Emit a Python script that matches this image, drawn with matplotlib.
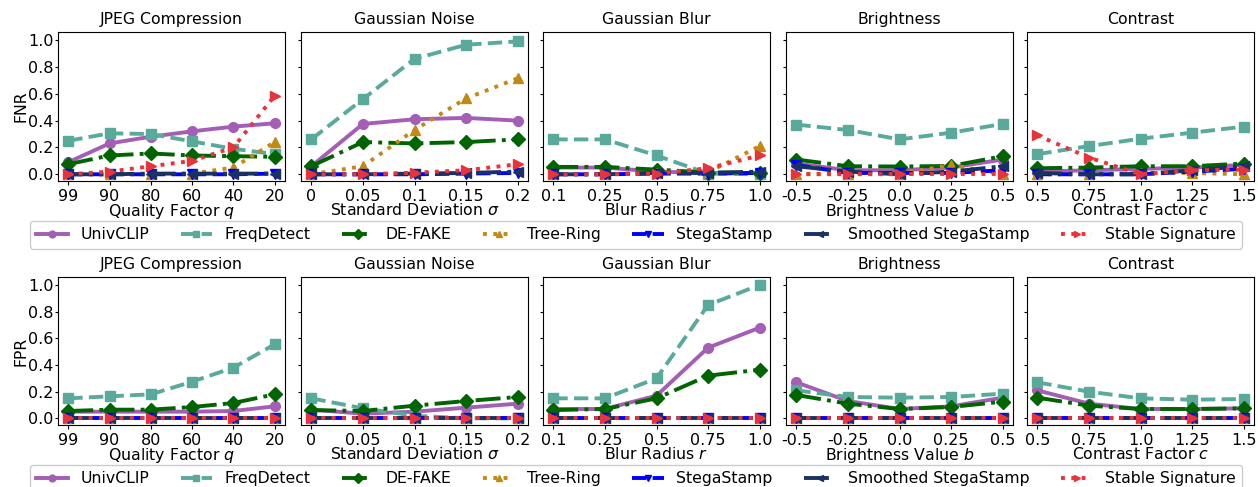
import matplotlib
matplotlib.use("Agg")
import matplotlib.pyplot as plt
import numpy as np

W, H = 1258, 487
plt.rcParams['font.family'] = ['DejaVu Sans']
plt.rcParams['font.size'] = 11.3

methods = ["UnivCLIP", "FreqDetect", "DE-FAKE", "Tree-Ring", "StegaStamp",
           "Smoothed StegaStamp", "Stable Signature"]
colors = ["#A55EB6", "#5AAA9C", "#006400", "#C28A14", "#0000FF", "#1A3263", "#E8333A"]
markers = ["o", "s", "D", "^", "v", "<", ">"]
styles = ["-", "--", "-.", ":", "--", "-.", ":"]

titles = ["JPEG Compression", "Gaussian Noise", "Gaussian Blur", "Brightness", "Contrast"]
xlabels = ["Quality Factor $q$", "Standard Deviation $\\sigma$", "Blur Radius $r$",
           "Brightness Value $b$", "Contrast Factor $c$"]
xticklabels = [
    ["99", "90", "80", "60", "40", "20"],
    ["0", "0.05", "0.1", "0.15", "0.2"],
    ["0.1", "0.25", "0.5", "0.75", "1.0"],
    ["-0.5", "-0.25", "0.0", "0.25", "0.5"],
    ["0.5", "0.75", "1.0", "1.25", "1.5"],
]

# FNR (top row): per perturbation, per method
fnr_jpeg = [
    [0.09, 0.23, 0.28, 0.32, 0.355, 0.38],
    [0.25, 0.305, 0.30, 0.245, 0.19, 0.15],
    [0.075, 0.14, 0.155, 0.14, 0.135, 0.13],
    [0.0, 0.0, 0.0, 0.005, 0.05, 0.24],
    [0.0, 0.0, 0.0, 0.0, 0.0, 0.005],
    [0.0, 0.0, 0.005, 0.005, 0.005, 0.005],
    [0.0, 0.02, 0.06, 0.10, 0.20, 0.585],
]
fnr_noise = [
    [0.06, 0.375, 0.41, 0.42, 0.40],
    [0.26, 0.56, 0.86, 0.965, 0.99],
    [0.06, 0.24, 0.23, 0.24, 0.26],
    [0.0, 0.06, 0.33, 0.565, 0.715],
    [0.0, 0.0, 0.0, 0.005, 0.01],
    [0.0, 0.0, 0.005, 0.01, 0.02],
    [0.0, 0.0, 0.012, 0.03, 0.075],
]
fnr_blur = [
    [0.05, 0.05, 0.02, 0.01, 0.01],
    [0.26, 0.26, 0.14, 0.005, 0.0],
    [0.055, 0.055, 0.035, 0.013, 0.013],
    [0.0, 0.0, 0.01, 0.015, 0.21],
    [0.0, 0.0, 0.005, 0.005, 0.01],
    [0.0, 0.0, 0.01, 0.01, 0.02],
    [0.0, 0.0, 0.005, 0.045, 0.14],
]
fnr_bright = [
    [0.08, 0.03, 0.03, 0.05, 0.11],
    [0.37, 0.33, 0.26, 0.31, 0.375],
    [0.11, 0.06, 0.058, 0.062, 0.135],
    [0.0, 0.0, 0.0, 0.07, 0.0],
    [0.07, 0.01, 0.01, 0.01, 0.03],
    [0.06, 0.02, 0.0, 0.02, 0.06],
    [0.0, 0.0, 0.0, 0.0, 0.0],
]
fnr_contrast = [
    [0.02, 0.03, 0.04, 0.05, 0.07],
    [0.15, 0.21, 0.265, 0.31, 0.355],
    [0.045, 0.05, 0.06, 0.06, 0.08],
    [0.0, 0.0, 0.01, 0.01, 0.0],
    [0.0, 0.0, 0.0, 0.02, 0.04],
    [0.01, 0.0, 0.0, 0.03, 0.06],
    [0.29, 0.125, 0.0, 0.03, 0.035],
]

# FPR (bottom row)
fpr_jpeg = [
    [0.05, 0.05, 0.05, 0.05, 0.055, 0.09],
    [0.15, 0.165, 0.18, 0.275, 0.38, 0.555],
    [0.055, 0.065, 0.065, 0.085, 0.115, 0.18],
    [0.0, 0.0, 0.0, 0.0, 0.0, 0.0],
    [0.0, 0.0, 0.0, 0.0, 0.0, 0.0],
    [0.0, 0.0, 0.0, 0.0, 0.0, 0.0],
    [0.0, 0.0, 0.0, 0.0, 0.0, 0.0],
]
fpr_noise = [
    [0.065, 0.035, 0.05, 0.08, 0.11],
    [0.15, 0.075, 0.02, 0.0, 0.0],
    [0.062, 0.055, 0.095, 0.13, 0.16],
    [0.0, 0.0, 0.0, 0.0, 0.0],
    [0.0, 0.0, 0.0, 0.0, 0.0],
    [0.0, 0.0, 0.0, 0.0, 0.0],
    [0.0, 0.0, 0.0, 0.0, 0.0],
]
fpr_blur = [
    [0.07, 0.07, 0.17, 0.53, 0.68],
    [0.15, 0.15, 0.30, 0.85, 1.0],
    [0.062, 0.07, 0.15, 0.32, 0.365],
    [0.0, 0.0, 0.0, 0.0, 0.0],
    [0.0, 0.0, 0.0, 0.0, 0.0],
    [0.0, 0.0, 0.0, 0.0, 0.0],
    [0.0, 0.0, 0.0, 0.0, 0.0],
]
fpr_bright = [
    [0.27, 0.13, 0.07, 0.09, 0.155],
    [0.21, 0.16, 0.155, 0.16, 0.185],
    [0.175, 0.11, 0.07, 0.085, 0.125],
    [0.0, 0.0, 0.0, 0.0, 0.0],
    [0.0, 0.0, 0.0, 0.0, 0.0],
    [0.0, 0.0, 0.0, 0.0, 0.0],
    [0.0, 0.0, 0.0, 0.0, 0.0],
]
fpr_contrast = [
    [0.21, 0.11, 0.07, 0.07, 0.075],
    [0.27, 0.20, 0.15, 0.14, 0.145],
    [0.155, 0.095, 0.07, 0.07, 0.075],
    [0.0, 0.0, 0.0, 0.0, 0.0],
    [0.0, 0.0, 0.0, 0.0, 0.0],
    [0.0, 0.0, 0.0, 0.0, 0.0],
    [0.0, 0.0, 0.0, 0.0, 0.0],
]

rows = [
    ("FNR", [fnr_jpeg, fnr_noise, fnr_blur, fnr_bright, fnr_contrast], 32, 181, 221),
    ("FPR", [fpr_jpeg, fpr_noise, fpr_blur, fpr_bright, fpr_contrast], 277, 425, 465),
]

fig = plt.figure(figsize=(W / 100, H / 100), dpi=100)
lefts = [58, 301, 543, 786, 1027]
aw = 227

for ylabel, datasets, ytop, ybot, legtop in rows:
    handles = None
    for k, (left, data) in enumerate(zip(lefts, datasets)):
        ax = fig.add_axes([left / W, 1 - ybot / H, aw / W, (ybot - ytop) / H])
        n = len(xticklabels[k])
        xs = np.arange(n)
        hs = []
        for m in range(len(methods)):
            h, = ax.plot(xs, data[m], color=colors[m], marker=markers[m],
                         linestyle=styles[m], linewidth=2.8, markersize=7,
                         label=methods[m])
            hs.append(h)
        handles = hs
        ax.set_xlim(-0.05 * (n - 1), (n - 1) * 1.05)
        ax.set_ylim(-0.05, 1.06)
        ax.set_xticks(xs)
        ax.set_xticklabels(xticklabels[k])
        ax.set_yticks([0, 0.2, 0.4, 0.6, 0.8, 1.0])
        if k == 0:
            ax.set_yticklabels(["0.0", "0.2", "0.4", "0.6", "0.8", "1.0"])
            ax.set_ylabel(ylabel, labelpad=0)
        else:
            ax.set_yticklabels([])
        ax.tick_params(axis='x', labelsize=11.5, pad=3, length=3)
        ax.tick_params(axis='y', labelsize=11.5, pad=0.5, length=2.5)
        ax.set_title(titles[k], fontsize=11.3)
        ax.set_xlabel(xlabels[k], fontsize=11.3, labelpad=-1.5)
    fig.legend(handles, methods, loc='upper center',
               bbox_to_anchor=(636 / W, 1 - legtop / H),
               ncol=7, borderaxespad=0.0, fontsize=11.3,
               markerscale=0.7, handlelength=2.0, columnspacing=2.0,
               framealpha=1.0)

fig.savefig("out.png", dpi=100)
